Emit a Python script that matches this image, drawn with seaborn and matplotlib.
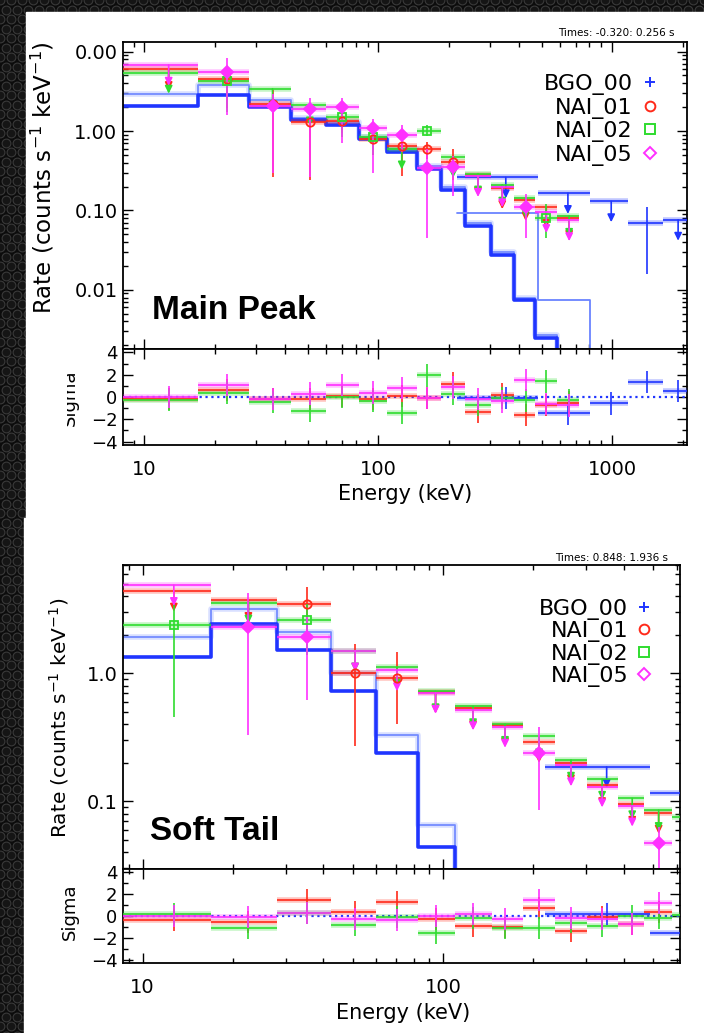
import numpy as np
import pandas as pd
import matplotlib
matplotlib.use('Agg')
import matplotlib.pyplot as plt
import seaborn as sns
from matplotlib.patches import Rectangle
from matplotlib.ticker import FixedLocator, FixedFormatter, LogLocator, NullFormatter, MultipleLocator

nan = np.nan

# ---------------- data ----------------
DETECTORS = ['BGO_00', 'NAI_01', 'NAI_02', 'NAI_05']

# NaI energy bins (keV), shared by both spectra
nai_edges = [8.0, 16.9, 28.1, 42.5, 60.0, 82.5, 109.5, 146.0, 185.0, 236.0, 302.0, 382.0, 466.0, 580.0, 725.0]
nai_mid = [12.7, 22.5, 35.3, 51.0, 70.3, 94.5, 126.0, 161.0, 209.0, 267.0, 339.0, 427.0, 523.0, 655.0]

# ---- Main Peak (Times: -0.320: 0.256 s) ----
mp_bgo_edges = [218, 484, 805, 1170, 1652, 2090]
mp_bgo_mid = [351, 647, 991, 1413, 1915]
mp_bgo_rate = [0.26, 0.165, 0.13, 0.07, 0.076]
mp_bgo_lo = [nan, nan, nan, 0.016, nan]
mp_bgo_hi = [nan, nan, nan, 0.112, nan]
mp_bgo_sigma = [-0.1, -1.47, -0.58, 1.36, 0.53]

mp_nai01_rate = [6.0, 4.5, 2.2, 1.31, 1.35, 0.80, 0.64, 0.60, 0.41, 0.28, 0.19, 0.135, 0.11, 0.08]
mp_nai01_lo = [nan, 1.95, 0.26, 0.24, 0.95, 0.50, 0.27, 0.45, 0.24, nan, nan, nan, nan, nan]
mp_nai01_hi = [nan, 5.1, 3.3, 1.65, 1.8, 1.0, 0.75, 0.72, 0.60, nan, nan, nan, nan, nan]
mp_nai01_sigma = [-0.2, 0.64, -0.2, -0.2, 0.08, -0.2, 0.08, -0.06, 1.2, -1.36, 0.22, -1.6, -0.7, -0.5]

mp_nai02_rate = [5.4, 4.2, 3.4, 2.15, 1.5, 0.85, 0.6, 1.0, 0.47, 0.29, 0.21, 0.145, 0.08, 0.085]
mp_nai02_lo = [nan, 1.75, nan, nan, 0.85, 0.5, nan, 0.87, nan, nan, nan, nan, 0.045, nan]
mp_nai02_hi = [nan, 5.3, nan, nan, 1.75, 1.0, nan, 1.2, nan, nan, nan, nan, 0.12, nan]
mp_nai02_sigma = [-0.25, 0.4, -0.47, -1.25, 0.0, -0.33, -1.44, 1.94, 0.3, -0.7, -0.1, -0.3, 1.4, -0.25]

mp_nai05_rate = [6.8, 5.5, 2.06, 1.87, 1.98, 1.08, 0.88, 0.34, 0.35, 0.27, 0.20, 0.112, 0.095, 0.075]
mp_nai05_lo = [nan, 1.6, 0.3, 0.26, 0.7, 0.3, 0.55, 0.045, 0.15, nan, nan, 0.045, nan, nan]
mp_nai05_hi = [nan, 8.2, 2.9, 2.6, 2.6, 1.4, 1.2, 0.6, 0.48, nan, nan, 0.16, nan, nan]
mp_nai05_sigma = [0.0, 1.05, -0.2, 0.3, 1.05, 0.4, 0.78, -0.06, 0.86, -0.2, -0.4, 1.55, -0.6, -0.75]

# model count spectra (blue steps)
mp_model_thick = [2.06, 2.84, 2.02, 1.37, 1.20, 0.80, 0.55, 0.33, 0.18, 0.063, 0.0275, 0.0075, 0.0025, 0.0008]
mp_model_light = [2.89, 3.79, 2.45, 1.44, 1.31, 0.85, 0.60, 0.36, 0.20, 0.070, 0.030, 0.008, 0.0027, 0.0009]
mp_model_bgo_edges = [218, 484, 805, 1170]
mp_model_bgo = [0.094, 0.0075, 0.0005]

# ---- Soft Tail (Times: 0.848: 1.936 s) ----
st_bgo_edges = [219, 489, 740]
st_bgo_mid = [351, 640]
st_bgo_rate = [0.185, 0.115]
st_bgo_lo = [nan, nan]
st_bgo_hi = [nan, nan]
st_bgo_sigma = [0.2, -1.6]

st_nai01_rate = [4.4, 3.72, 3.46, 1.0, 0.91, 0.71, 0.53, 0.39, 0.29, 0.2, 0.133, 0.095, 0.081, nan]
st_nai01_lo = [nan, nan, 1.92, 0.27, 0.4, nan, nan, nan, nan, nan, nan, nan, nan, nan]
st_nai01_hi = [nan, nan, 4.7, 1.7, 1.46, nan, nan, nan, nan, nan, nan, nan, nan, nan]
st_nai01_sigma = [-0.34, -0.57, 1.5, 0.37, 1.28, -0.28, -0.9, -1.05, 0.7, -1.39, -0.1, -0.77, 0.37, nan]

st_nai02_rate = [2.37, 3.55, 2.59, 1.5, 1.12, 0.72, 0.55, 0.40, 0.32, 0.21, 0.149, 0.105, 0.085, 0.075]
st_nai02_lo = [0.456, nan, 1.38, nan, nan, nan, nan, nan, nan, nan, nan, nan, nan, nan]
st_nai02_hi = [3.6, nan, 3.5, nan, nan, nan, nan, nan, nan, nan, nan, nan, nan, nan]
st_nai02_sigma = [0.17, -1.13, 0.3, -0.85, -0.1, -1.53, -0.2, -1.1, -1.1, -0.6, -0.9, 0.0, -0.2, 0.1]

st_nai05_rate = [4.87, 2.3, 1.92, 1.5, 1.05, 0.70, 0.52, 0.38, 0.236, 0.19, 0.13, 0.092, 0.047, nan]
st_nai05_lo = [nan, 0.33, 0.62, nan, nan, nan, nan, nan, 0.085, nan, nan, nan, 0.03, nan]
st_nai05_hi = [nan, 4.2, 2.74, nan, nan, nan, nan, nan, 0.38, nan, nan, nan, 0.063, nan]
st_nai05_sigma = [0.0, -0.1, 0.3, -0.25, -0.34, 0.0, 0.17, -0.25, 1.5, -0.17, -0.3, -0.77, 1.2, nan]

st_model_thick = [1.34, 2.41, 1.51, 0.73, 0.236, 0.044, 0.005]
st_model_light = [1.92, 3.2, 2.1, 1.0, 0.33, 0.065, 0.006]

# ---------------- style ----------------
BLUE = '#1f35ff'
LIGHT_BLUE = '#6a84ff'
RED = '#ff2a1a'
GREEN = '#2fdc2f'
MAGENTA = '#ff30ff'
COLORS = [BLUE, RED, GREEN, MAGENTA]
MARKERS = ['+', 'o', 's', 'D']
ARROW_PTS = 15

sns.set_style('ticks')
plt.rcParams['font.family'] = ['DejaVu Sans']
plt.rcParams['text.color'] = 'black'

W, H = 704, 1033


def fx(px):
    return px / W


def fy(py):
    return 1 - py / H


def draw_steps(ax, edges, values, color, lw, alpha=1.0):
    df = pd.DataFrame({'E': list(edges), 'rate': list(values) + [values[-1]]})
    sns.lineplot(data=df, x='E', y='rate', ax=ax, color=color, lw=lw, alpha=alpha,
                 drawstyle='steps-post', estimator=None, sort=False, zorder=2)


def draw_detector(ax, axr, edges, mids, rate, lo, hi, sigma, color, marker, mfc):
    edges = np.asarray(edges, float)
    e_lo, e_hi = edges[:-1], edges[1:]
    mids = np.asarray(mids, float)
    rate, lo, hi, sigma = (np.asarray(a, float) for a in (rate, lo, hi, sigma))
    ok = ~np.isnan(rate)
    ax.hlines(rate[ok], e_lo[ok], e_hi[ok], color=color, lw=4, alpha=0.28, zorder=3)
    ax.hlines(rate[ok], e_lo[ok], e_hi[ok], color=color, lw=1.2, zorder=4)
    det = ok & ~np.isnan(lo)
    ax.vlines(mids[det], lo[det], hi[det], color=color, lw=1.2, zorder=4)
    ul = ok & np.isnan(lo)
    for m, r in zip(mids[ul], rate[ul]):
        ax.annotate('', xy=(m, r), xytext=(0, -ARROW_PTS), textcoords='offset points',
                    arrowprops=dict(arrowstyle='<|-,head_length=0.45,head_width=0.22',
                                    color=color, lw=1.2, shrinkA=0, shrinkB=0), zorder=4)
    if marker is not None:
        ax.plot(mids[det], rate[det], ls='none', marker=marker, ms=6, mfc=mfc,
                mec=color, mew=1.3, zorder=5)
    # residuals
    okr = ~np.isnan(sigma)
    axr.hlines(sigma[okr], e_lo[okr], e_hi[okr], color=color, lw=4, alpha=0.28, zorder=3)
    axr.hlines(sigma[okr], e_lo[okr], e_hi[okr], color=color, lw=1.2, zorder=4)
    axr.vlines(mids[okr], sigma[okr] - 1, sigma[okr] + 1, color=color, lw=1.2, zorder=4)


def style_axes(ax):
    ax.tick_params(which='both', direction='in', top=True, right=True, width=1.0,
                   labelsize=14, colors='black')
    ax.tick_params(which='major', length=7)
    ax.tick_params(which='minor', length=3.5)
    for s in ax.spines.values():
        s.set_linewidth(1.3)
        s.set_color('black')


def draw_legend(ax, x_text, x_mark, y0, dy):
    for i, (lab, mk, col) in enumerate(zip(DETECTORS, MARKERS, COLORS)):
        y = y0 - i * dy
        ax.text(x_text, y, lab, transform=ax.transAxes, ha='right', va='center_baseline',
                fontsize=16, color='black')
        ax.plot([x_mark], [y], transform=ax.transAxes, marker=mk, ms=7 if mk != 'D' else 6,
                mfc='none', mec=col, mew=1.4, ls='none', clip_on=False)


def panel(fig, box_main, box_res, xlim, ylim, yticks, ylabels, xticks, xlabels, res_ylim):
    ax = fig.add_axes(box_main)
    axr = fig.add_axes(box_res)
    for a in (ax, axr):
        a.set_facecolor('white')
        a.set_xscale('log')
        a.set_xlim(*xlim)
        a.xaxis.set_major_locator(FixedLocator(xticks))
        a.xaxis.set_minor_locator(LogLocator(base=10, subs=np.arange(2, 10)))
        a.xaxis.set_minor_formatter(NullFormatter())
        style_axes(a)
    ax.set_yscale('log')
    ax.set_ylim(*ylim)
    ax.yaxis.set_major_locator(FixedLocator(yticks))
    ax.yaxis.set_major_formatter(FixedFormatter(ylabels))
    ax.yaxis.set_minor_locator(LogLocator(base=10, subs=np.arange(2, 10)))
    ax.yaxis.set_minor_formatter(NullFormatter())
    ax.tick_params(axis='x', labelbottom=False)
    ax.tick_params(axis='y', pad=4)
    axr.set_ylim(*res_ylim)
    axr.yaxis.set_major_locator(FixedLocator([-4, -2, 0, 2, 4]))
    axr.yaxis.set_minor_locator(MultipleLocator(1))
    axr.xaxis.set_major_formatter(FixedFormatter(xlabels))
    axr.tick_params(axis='x', pad=11)
    axr.tick_params(axis='y', pad=4, labelsize=13)
    axr.axhline(0, color=BLUE, ls=':', lw=1.6, zorder=2)
    return ax, axr


fig = plt.figure(figsize=(W / 100, H / 100), dpi=100)
fig.patch.set_facecolor('#0c0c0c')

# dark hexagonal backdrop and the two white plot sheets
bg = fig.add_axes([0, 0, 1, 1], zorder=-10)
bg.set_xlim(0, W)
bg.set_ylim(H, 0)
bg.axis('off')
gx, gy = np.meshgrid(np.arange(0, W + 12, 11.0), np.arange(0, H + 12, 9.5))
gx = gx + (np.arange(gx.shape[0])[:, None] % 2) * 5.5
bg.scatter(gx.ravel(), gy.ravel(), s=40, facecolor='#151515', edgecolor='#3a3a3a', lw=0.8)
bg.add_patch(Rectangle((26, 12), W - 26, 518 - 12, color='white', zorder=3))
bg.add_patch(Rectangle((24, 518), W - 24, H - 518, color='white', zorder=3))

# ---------------- top panel: Main Peak ----------------
ax1, ax1r = panel(fig,
                  [fx(123), fy(349), fx(687 - 123), (349 - 42) / H],
                  [fx(123), fy(445), fx(687 - 123), (445 - 349) / H],
                  (8.1, 2090), (0.0018, 13.2), [0.01, 0.1, 1, 10],
                  ['0.01', '0.10', '1.00', '0.00'], [10, 100, 1000], ['10', '100', '1000'],
                  (-4.3, 4.3))

draw_steps(ax1, nai_edges, mp_model_light, LIGHT_BLUE, 1.3, 0.9)
draw_steps(ax1, nai_edges, mp_model_light, LIGHT_BLUE, 4, 0.25)
draw_steps(ax1, nai_edges, mp_model_thick, BLUE, 2.6)
draw_steps(ax1, mp_model_bgo_edges, mp_model_bgo, LIGHT_BLUE, 1.3)

draw_detector(ax1, ax1r, mp_bgo_edges, mp_bgo_mid, mp_bgo_rate, mp_bgo_lo, mp_bgo_hi,
              mp_bgo_sigma, BLUE, None, 'none')
draw_detector(ax1, ax1r, nai_edges, nai_mid, mp_nai01_rate, mp_nai01_lo, mp_nai01_hi,
              mp_nai01_sigma, RED, 'o', 'none')
draw_detector(ax1, ax1r, nai_edges, nai_mid, mp_nai02_rate, mp_nai02_lo, mp_nai02_hi,
              mp_nai02_sigma, GREEN, 's', 'none')
draw_detector(ax1, ax1r, nai_edges, nai_mid, mp_nai05_rate, mp_nai05_lo, mp_nai05_hi,
              mp_nai05_sigma, MAGENTA, 'D', MAGENTA)

draw_legend(ax1, 0.904, 0.934, 0.870, 0.077)
ax1.text(0.051, 0.127, 'Main Peak', transform=ax1.transAxes, fontsize=24, fontweight='bold',
         family=['Liberation Sans', 'DejaVu Sans'], ha='left', va='center')
for a in (ax1, ax1r):
    a.set_xlabel('')
    a.set_ylabel('')

fig.text(fx(675), fy(33), 'Times: -0.320: 0.256 s', ha='right', va='center', fontsize=7.5)
fig.text(fx(43), fy(178), 'Rate (counts s$^{-1}$ keV$^{-1}$)', rotation=90,
         ha='center', va='center', fontsize=16.5)
sig_top = fig.text(fx(70), fy(398), 'Sigma', rotation=90, ha='center', va='center', fontsize=13)
sig_top.set_clip_path(Rectangle((fx(66.5), 0), 1, 1, transform=fig.transFigure))
fig.text(fx(405), fy(494), 'Energy (keV)', ha='center', va='center', fontsize=15)

# ---------------- bottom panel: Soft Tail ----------------
ax2, ax2r = panel(fig,
                  [fx(123), fy(869), fx(680 - 123), (869 - 565) / H],
                  [fx(123), fy(963), fx(680 - 123), (963 - 869) / H],
                  (8.6, 616), (0.0295, 7.0), [0.1, 1], ['0.1', '1.0'],
                  [10, 100], ['10', '100'], (-4.3, 4.3))

draw_steps(ax2, nai_edges[:8], st_model_light, LIGHT_BLUE, 1.3, 0.9)
draw_steps(ax2, nai_edges[:8], st_model_light, LIGHT_BLUE, 4, 0.25)
draw_steps(ax2, nai_edges[:8], st_model_thick, BLUE, 2.6)

draw_detector(ax2, ax2r, st_bgo_edges, st_bgo_mid, st_bgo_rate, st_bgo_lo, st_bgo_hi,
              st_bgo_sigma, BLUE, None, 'none')
draw_detector(ax2, ax2r, nai_edges, nai_mid, st_nai01_rate, st_nai01_lo, st_nai01_hi,
              st_nai01_sigma, RED, 'o', 'none')
draw_detector(ax2, ax2r, nai_edges, nai_mid, st_nai02_rate, st_nai02_lo, st_nai02_hi,
              st_nai02_sigma, GREEN, 's', 'none')
draw_detector(ax2, ax2r, nai_edges, nai_mid, st_nai05_rate, st_nai05_lo, st_nai05_hi,
              st_nai05_sigma, MAGENTA, 'D', MAGENTA)

draw_legend(ax2, 0.907, 0.935, 0.862, 0.0735)
ax2.text(0.048, 0.122, 'Soft Tail', transform=ax2.transAxes, fontsize=24, fontweight='bold',
         family=['Liberation Sans', 'DejaVu Sans'], ha='left', va='center')
for a in (ax2, ax2r):
    a.set_xlabel('')
    a.set_ylabel('')

fig.text(fx(668), fy(558), 'Times: 0.848: 1.936 s', ha='right', va='center', fontsize=7.5)
fig.text(fx(59), fy(718), 'Rate (counts s$^{-1}$ keV$^{-1}$)', rotation=90,
         ha='center', va='center', fontsize=14.5)
fig.text(fx(70), fy(912), 'Sigma', rotation=90, ha='center', va='center', fontsize=13)
fig.text(fx(403), fy(1013), 'Energy (keV)', ha='center', va='center', fontsize=15)

fig.savefig('out.png', dpi=100, facecolor=fig.get_facecolor())
